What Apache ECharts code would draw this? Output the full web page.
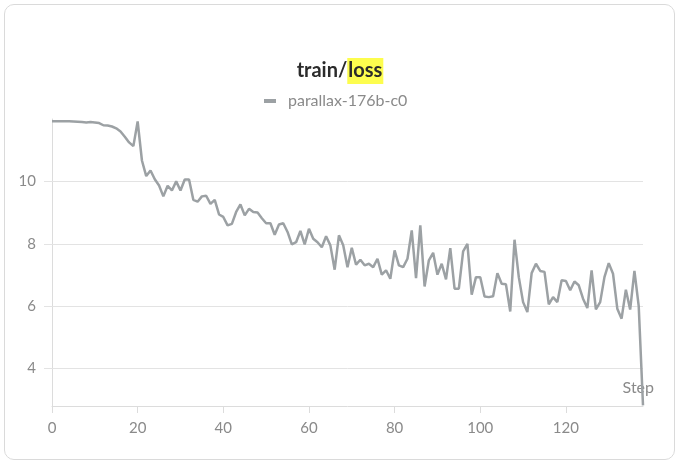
<!DOCTYPE html>
<html>
<head>
<meta charset="utf-8">
<script src="https://cdn.jsdelivr.net/npm/echarts@6/dist/echarts.min.js"></script>
<style>
  body { margin: 0; background: #fff; }
  #wrap { position: relative; width: 680px; height: 464px; }
  #card { position: absolute; left: 4px; top: 4px; width: 669px; height: 454px;
          border: 1px solid #dadada; border-radius: 10px; pointer-events: none; }
  #chart { position: absolute; left: 0; top: 0; width: 680px; height: 464px; }
</style>
</head>
<body>
<div id="wrap">
  <div id="chart"></div>
  <div id="card"></div>
</div>
<script>
// values
var seriesName = 'parallax-176b-c0';
var loss = [
  11.93, 11.93, 11.93, 11.93, 11.93, 11.92, 11.91, 11.90, 11.89, 11.90,
  11.89, 11.87, 11.80, 11.79, 11.76, 11.70, 11.60, 11.43, 11.25, 11.13,
  11.92, 10.67, 10.17, 10.35, 10.07, 9.87, 9.52, 9.86, 9.71, 10.00,
  9.71, 10.06, 10.06, 9.41, 9.35, 9.52, 9.54, 9.28, 9.41, 8.94,
  8.86, 8.59, 8.64, 9.02, 9.26, 8.91, 9.12, 9.02, 9.00, 8.82,
  8.66, 8.66, 8.29, 8.62, 8.66, 8.38, 7.98, 8.05, 8.41, 7.98,
  8.48, 8.16, 8.05, 7.89, 8.24, 7.95, 7.17, 8.27, 7.95, 7.25,
  7.87, 7.33, 7.49, 7.31, 7.36, 7.25, 7.52, 7.01, 7.15, 6.88,
  7.79, 7.31, 7.25, 7.52, 8.43, 6.90, 8.59, 6.63, 7.47, 7.71,
  7.01, 7.36, 6.86, 7.86, 6.56, 6.56, 7.76, 8.00, 6.37, 6.93,
  6.93, 6.31, 6.29, 6.32, 7.06, 6.72, 6.70, 5.83, 8.13, 6.93,
  6.13, 5.81, 7.06, 7.36, 7.13, 7.10, 6.06, 6.29, 6.13, 6.83,
  6.81, 6.51, 6.79, 6.67, 6.24, 5.94, 7.15, 5.90, 6.13, 6.93,
  7.38, 7.04, 5.92, 5.60, 6.53, 5.89, 7.13, 6.00, 2.82
];
var xTicks = [0, 20, 40, 60, 80, 100, 120];
var yTicks = [4, 6, 8, 10];

var font = 'Lato';
var points = loss.map(function (v, i) { return [i, v]; });

var myChart = echarts.init(document.getElementById('chart'));

option = {
    backgroundColor: '#fff',
    animation: false,
    textStyle: { fontFamily: font },
    title: {
        text: '{a|train/}{b|loss}',
        left: 'center',
        top: 53,
        textStyle: {
            rich: {
                a: { fontFamily: font, fontSize: 20, fontWeight: 'bold', color: '#2b2b2b' },
                b: { fontFamily: font, fontSize: 20, fontWeight: 'bold', color: '#2b2b2b',
                     backgroundColor: '#fdfd4e', padding: [3, 1, 3, 1] }
            }
        }
    },
    legend: {
        top: 88,
        left: 259,
        icon: 'rect',
        itemWidth: 12,
        itemHeight: 4,
        textStyle: { fontFamily: font, fontSize: 16, color: '#8a8a8a', padding: [0, 0, 0, 7] },
        data: [seriesName]
    },
    grid: { left: 52, right: 37, top: 119, bottom: 58 },
    xAxis: {
        type: 'value',
        min: 0,
        max: loss.length - 1,
        name: 'Step',
        nameLocation: 'end',
        nameGap: 11,
        nameTextStyle: { fontFamily: font, fontSize: 16, color: '#8a8a8a',
                         align: 'right', verticalAlign: 'bottom', padding: [0, 0, 10, 0] },
        axisLine: { lineStyle: { color: '#dcdcdc', width: 1 } },
        axisTick: { customValues: xTicks, length: 7, lineStyle: { color: '#dcdcdc' } },
        axisLabel: { customValues: xTicks, margin: 15, fontSize: 15, color: '#8a8a8a', fontFamily: font },
        splitLine: { show: false }
    },
    yAxis: {
        type: 'value',
        min: 2.8,
        max: 12,
        axisLine: { show: true, lineStyle: { color: '#dcdcdc', width: 1 } },
        axisTick: { show: true, customValues: yTicks, length: 8, lineStyle: { color: '#e3e3e3' } },
        axisLabel: { customValues: yTicks, margin: 16, fontSize: 15, color: '#8a8a8a', fontFamily: font },
        splitLine: { show: false }
    },
    series: [
        {
            name: seriesName,
            type: 'line',
            data: points,
            showSymbol: false,
            symbol: 'none',
            lineStyle: { color: '#9ca1a4', width: 2.5 },
            itemStyle: { color: '#9ca1a4' },
            z: 3,
            markLine: {
                silent: true,
                symbol: 'none',
                label: { show: false },
                lineStyle: { type: 'solid', color: '#e3e3e3', width: 1 },
                data: yTicks.map(function (t) { return { yAxis: t }; }),
                z: 1
            }
        }
    ]
};

myChart.setOption(option);
</script>
</body>
</html>
